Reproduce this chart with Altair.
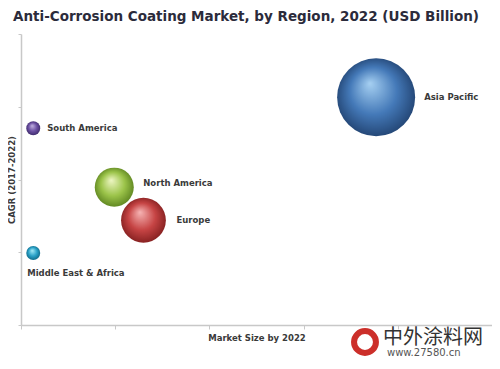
import altair as alt
import pandas as pd

# ---- data ----
regions = ["Asia Pacific", "South America", "North America", "Europe", "Middle East & Africa"]
market_size = [3.77, 0.13, 0.99, 1.30, 0.13]      # relative market size by 2022 (x)
cagr = [6.26, 5.41, 3.79, 2.88, 1.98]              # relative CAGR 2017-2022 (y)
bubble = [100, 3.2, 25, 33, 3.2]                   # relative bubble size

df = pd.DataFrame({"region": regions, "market": market_size, "cagr": cagr, "bubble": bubble})

# ---- styles ----
styles = {
    "Asia Pacific": dict(hi="#a6d0f2", mid="#4479b8", lo="#1f3f6c", dx=48, dy=0),
    "South America": dict(hi="#c4b6e2", mid="#6b4fa2", lo="#3a2866", dx=14, dy=0),
    "North America": dict(hi="#eef6c4", mid="#9cc44a", lo="#587f1c", dx=29, dy=-4),
    "Europe": dict(hi="#f6b4b4", mid="#c64444", lo="#7e1c1c", dx=33, dy=0),
    "Middle East & Africa": dict(hi="#a8ecf8", mid="#2aa2c8", lo="#0c6482", dx=-6, dy=20),
}

W, H = 471, 291
x_scale = alt.Scale(domain=[0, 5], nice=False, zero=True)
y_scale = alt.Scale(domain=[0, 8], nice=False, zero=True)
size_scale = alt.Scale(domain=[0, 100], range=[0, 6084], zero=True)

base = alt.Chart(df)

layers = []
for i, name in enumerate(regions):
    s = styles[name]
    grad = alt.RadialGradient(
        gradient="radial",
        x1=0.42, y1=0.32, r1=0.0,
        x2=0.5, y2=0.5, r2=0.55,
        stops=[
            alt.GradientStop(color=s["hi"], offset=0),
            alt.GradientStop(color=s["mid"], offset=0.55),
            alt.GradientStop(color=s["lo"], offset=1),
        ],
    )
    if i == 0:
        x_enc = alt.X("market:Q", scale=x_scale,
                      axis=alt.Axis(values=[0, 1, 2, 3, 4, 5], labels=False, grid=False, tickSize=4,
                                    title="Market Size by 2022", titlePadding=4))
        y_enc = alt.Y("cagr:Q", scale=y_scale,
                      axis=alt.Axis(values=list(range(9)), labels=False, grid=False, tickSize=3,
                                    title="CAGR (2017-2022)", titleX=-10, titleY=H / 2,
                                    titleBaseline="middle", titleAlign="center", titleAngle=270))
    else:
        x_enc = alt.X("market:Q", scale=x_scale)
        y_enc = alt.Y("cagr:Q", scale=y_scale)
    circ = base.transform_filter(alt.datum.region == name).mark_circle(
        fill=grad, opacity=1
    ).encode(
        x=x_enc, y=y_enc,
        size=alt.Size("bubble:Q", scale=size_scale, legend=None),
    )
    txt = base.transform_filter(alt.datum.region == name).mark_text(
        align="left", baseline="middle", dx=s["dx"], dy=s["dy"],
        font="DejaVu Sans", fontSize=8.5, fontWeight="bold", color="#3a3a3a",
    ).encode(x=alt.X("market:Q", scale=x_scale), y=alt.Y("cagr:Q", scale=y_scale), text="region:N")
    layers += [circ, txt]

# watermark (annotation from the picture)
wm_df = pd.DataFrame({"t": ["中外涂料网"], "u": ["www.27580.cn"]})
logo = alt.Chart(wm_df).mark_point(shape="circle", filled=False, stroke="#cc2f2a",
                                    strokeWidth=6, size=480, opacity=1).encode(x=alt.value(344), y=alt.value(308))
wm1 = alt.Chart(wm_df).mark_text(align="left", baseline="middle", font="Noto Sans CJK SC",
                                 fontSize=20, color="#333333").encode(
    x=alt.value(362), y=alt.value(304), text="t:N")
wm2 = alt.Chart(wm_df).mark_text(align="left", baseline="middle", font="DejaVu Sans",
                                 fontSize=10, color="#555555").encode(
    x=alt.value(366), y=alt.value(318.5), text="u:N")

chart = alt.layer(*layers, logo, wm1, wm2).properties(
    width=W, height=H,
    autosize=alt.AutoSizeParams(type="none"),
    padding={"left": 13, "top": 26, "right": 0, "bottom": 32},
    background="white",
    title=alt.TitleParams(
        "Anti-Corrosion Coating Market, by Region, 2022 (USD Billion)",
        anchor="start", frame="group", font="DejaVu Sans", fontSize=13.5, fontWeight="bold",
        color="#2b2b3b", dx=-8, offset=10,
    ),
).configure_view(stroke=None).configure_axis(
    domainColor="#c8c8c8", domainWidth=1.5, tickColor="#c8c8c8", tickWidth=1,
    titleFont="DejaVu Sans", titleFontSize=8.5, titleFontWeight="bold", titleColor="#3a3a3a",
)

chart.save("out.html", embed_options={"renderer": "svg", "actions": False})
